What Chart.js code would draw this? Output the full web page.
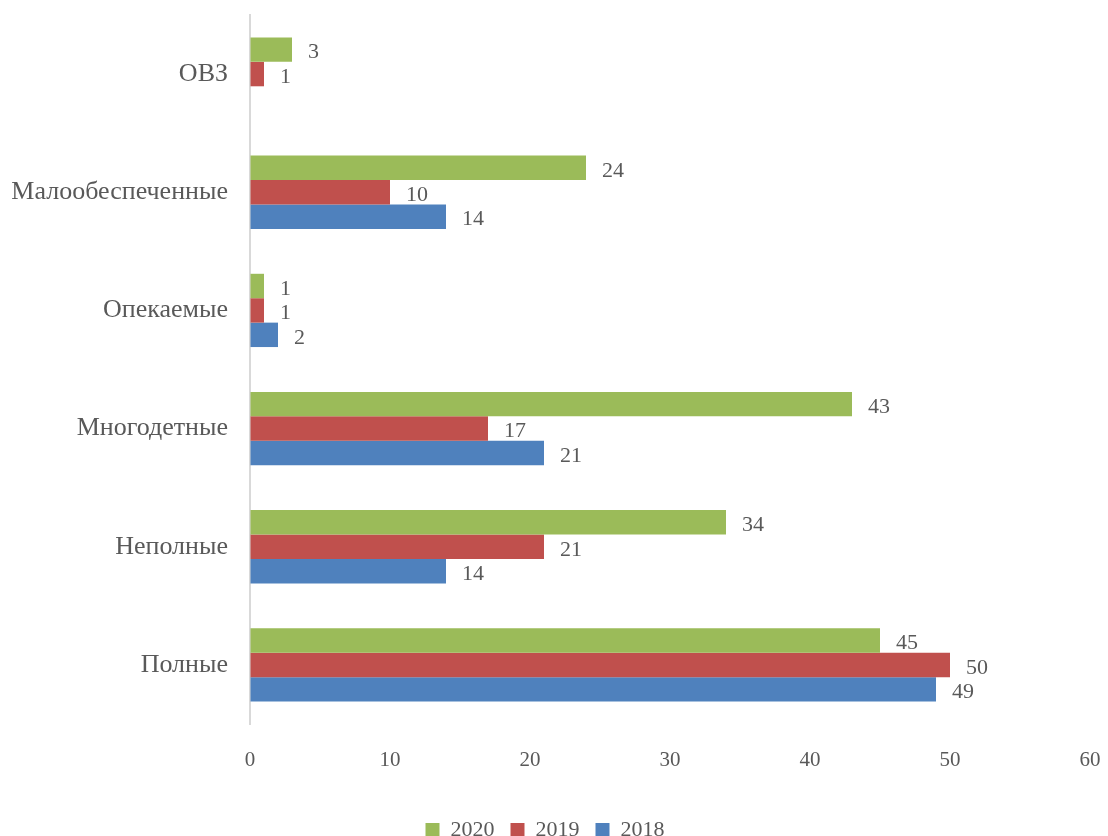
<!DOCTYPE html>
<html><head><meta charset="utf-8">
<script src="https://cdn.jsdelivr.net/npm/chart.js@4"></script>
<style>html,body{margin:0;padding:0;background:#fff}#wrap{width:1108px;height:836px}</style>
</head><body><div id="wrap"><canvas id="c" width="1108" height="836"></canvas></div>
<script>
const categories = ["ОВЗ","Малообеспеченные","Опекаемые","Многодетные","Неполные","Полные"];
const values2020 = [3, 24, 1, 43, 34, 45];
const values2019 = [1, 10, 1, 17, 21, 50];
const values2018 = [null, 14, 2, 21, 14, 49];
const xTicks = [0,10,20,30,40,50,60];
const seriesNames = ["2020","2019","2018"];
const seriesColors = ["#9BBB59","#C0504D","#4F81BD"];

const FONT = "'Liberation Serif', serif";
const TEXT = "#595959";

const labelPlugin = {
  id: 'barLabels',
  afterDatasetsDraw(chart) {
    const ctx = chart.ctx;
    ctx.save();
    ctx.font = "22px " + FONT;
    ctx.fillStyle = TEXT;
    ctx.textBaseline = 'middle';
    ctx.textAlign = 'left';
    chart.data.datasets.forEach((ds, di) => {
      const meta = chart.getDatasetMeta(di);
      meta.data.forEach((el, i) => {
        const v = ds.data[i];
        if (v === null || v === undefined) return;
        ctx.fillText(String(v), el.x + 16, el.y + 3);
      });
    });
    ctx.restore();
  }
};

new Chart(document.getElementById('c'), {
  type: 'bar',
  data: {
    labels: categories,
    datasets: [
      {label: seriesNames[0], data: values2020, backgroundColor: seriesColors[0]},
      {label: seriesNames[1], data: values2019, backgroundColor: seriesColors[1]},
      {label: seriesNames[2], data: values2018, backgroundColor: seriesColors[2]}
    ]
  },
  options: {
    indexAxis: 'y',
    responsive: false,
    animation: false,
    layout: {padding: {left: 0, right: 18, top: 15, bottom: -15}},
    datasets: {bar: {categoryPercentage: 0.62, barPercentage: 1.0}},
    scales: {
      x: {
        min: 0, max: 60,
        afterBuildTicks: s => { s.ticks = xTicks.map(v => ({value: v})); },
        grid: {display: true, color: 'rgba(0,0,0,0)', drawOnChartArea: false, drawTicks: true, tickLength: 22},
        border: {display: false},
        ticks: {color: TEXT, font: {family: FONT, size: 21}, padding: 2, maxRotation: 0},
        afterFit: s => { s.height = 79; }
      },
      y: {
        grid: {display: true, color: 'rgba(0,0,0,0)', drawOnChartArea: false, drawTicks: true, tickLength: 20},
        border: {display: true, color: '#D9D9D9', width: 2},
        ticks: {color: TEXT, font: {family: FONT, size: 26, lineHeight: 1.0}, padding: 2},
        afterFit: s => { s.width = 250; }
      }
    },
    plugins: {
      legend: {
        position: 'bottom',
        labels: {color: TEXT, font: {family: FONT, size: 22}, boxWidth: 14, boxHeight: 14, padding: 16}
      },
      tooltip: {enabled: false}
    }
  },
  plugins: [labelPlugin]
});
</script></body></html>
